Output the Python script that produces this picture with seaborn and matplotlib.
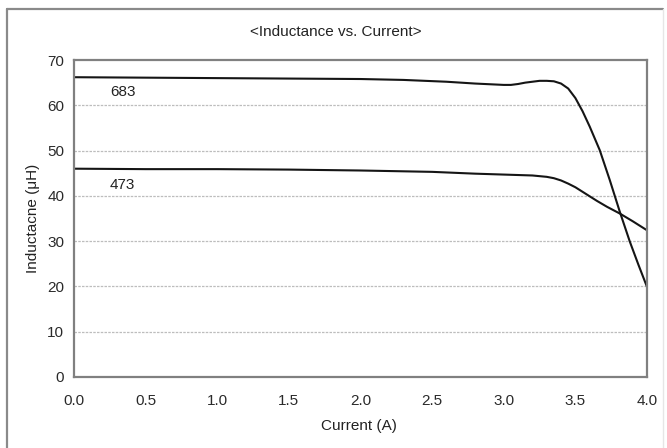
import matplotlib
matplotlib.use("Agg")
import matplotlib.pyplot as plt
import seaborn as sns
import pandas as pd
from matplotlib.lines import Line2D

# ---- data ----
current_683 = [0.0, 0.5, 1.0, 1.5, 2.0, 2.3, 2.6, 2.8, 3.0, 3.05, 3.1, 3.15, 3.2, 3.25, 3.3,
               3.35, 3.4, 3.45, 3.5, 3.55, 3.6, 3.67, 3.74, 3.81, 3.88, 3.94, 4.0]
induct_683 = [66.2, 66.1, 66.0, 65.9, 65.8, 65.6, 65.2, 64.8, 64.5, 64.5, 64.7, 65.0, 65.2, 65.4, 65.4,
              65.3, 64.8, 63.7, 61.6, 58.7, 55.3, 50.1, 43.5, 36.5, 29.9, 24.8, 19.9]
current_473 = [0.0, 0.5, 1.0, 1.5, 2.0, 2.5, 2.8, 3.0, 3.2, 3.3, 3.35, 3.4, 3.45, 3.5, 3.58,
               3.65, 3.72, 3.81, 3.9, 4.0]
induct_473 = [46.0, 45.9, 45.9, 45.8, 45.6, 45.3, 44.9, 44.7, 44.5, 44.2, 43.9, 43.4, 42.7, 41.9, 40.3,
              38.9, 37.6, 36.1, 34.4, 32.4]
series_labels = ["683", "473"]
label_pos = [(0.25, 62.9), (0.25, 42.4)]
x_ticks = [0.0, 0.5, 1.0, 1.5, 2.0, 2.5, 3.0, 3.5, 4.0]
y_ticks = [0, 10, 20, 30, 40, 50, 60, 70]

df = pd.concat([
    pd.DataFrame({"Current": current_683, "L": induct_683, "part": "683"}),
    pd.DataFrame({"Current": current_473, "L": induct_473, "part": "473"}),
], ignore_index=True)

sns.set_theme(style="white")
plt.rcParams["font.family"] = ["Liberation Sans", "DejaVu Sans"]

fig = plt.figure(figsize=(6.67, 4.48), dpi=100)
ax = fig.add_axes([74 / 667, 1 - 377 / 448, (647 - 74) / 667, (377 - 60) / 448])

sns.lineplot(data=df, x="Current", y="L", hue="part", units="part", estimator=None,
             palette={"683": "#151515", "473": "#151515"}, linewidth=1.5,
             legend=False, sort=False, ax=ax)
for ln in ax.get_lines():
    ln.set_solid_joinstyle("round")

ax.set_xlim(0, 4)
ax.set_ylim(0, 70)
ax.set_xticks(x_ticks)
ax.set_xticklabels([f"{t:.1f}" for t in x_ticks])
ax.set_yticks(y_ticks)
ax.set_xlabel("")
ax.set_ylabel("")

for yv in y_ticks[1:-1]:
    ax.axhline(yv, color="#bdbdbd", linewidth=0.9, linestyle=(0, (2, 1)), zorder=0)

for sp in ax.spines.values():
    sp.set_color("#808080")
    sp.set_linewidth(1.6)
    sp.set_visible(True)

ax.tick_params(axis="both", direction="in", length=3, width=1.2, color="#808080",
               labelsize=11, labelcolor="#2a2a2a")
ax.tick_params(axis="x", pad=12)
ax.tick_params(axis="y", pad=7)

for lab, (lx, ly) in zip(series_labels, label_pos):
    ax.text(lx, ly, lab, fontsize=11, color="#222222", va="center", ha="left")

fig.text(336 / 667, 1 - 32 / 448, "<Inductance vs. Current>", ha="center", va="center",
         fontsize=11, color="#222222")
fig.text(359 / 667, 1 - 426 / 448, "Current (A)", ha="center", va="center",
         fontsize=11, color="#222222")
fig.text(33 / 667, 1 - 218 / 448, "Inductacne (μH)", ha="center", va="center",
         rotation=90, fontsize=11, color="#222222")

# outer frame lines
fig.add_artist(Line2D([7 / 667, 7 / 667], [0, 1 - 9 / 448], transform=fig.transFigure,
                      color="#8a8a8a", linewidth=1.6))
fig.add_artist(Line2D([7 / 667, 663 / 667], [1 - 9 / 448, 1 - 9 / 448], transform=fig.transFigure,
                      color="#8a8a8a", linewidth=1.6))
fig.add_artist(Line2D([663 / 667, 663 / 667], [0, 1 - 9 / 448], transform=fig.transFigure,
                      color="#e6e6e6", linewidth=1.0))

fig.savefig("out.png", dpi=100)
